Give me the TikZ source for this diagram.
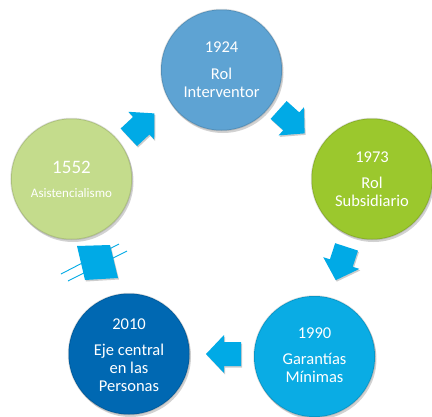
\documentclass[tikz,border=0pt]{standalone}
\usepackage{fontspec}
\setmainfont{Carlito}
\usetikzlibrary{shadows}
\definecolor{cA}{RGB}{94,163,211}
\definecolor{cB}{RGB}{155,200,45}
\definecolor{cC}{RGB}{10,172,228}
\definecolor{cD}{RGB}{0,104,178}
\definecolor{cE}{RGB}{196,220,140}
\definecolor{arr}{RGB}{0,170,230}
\begin{document}
\begin{tikzpicture}[x=1pt,y=-1pt,
  yr/.style={circle, minimum size=121pt, inner sep=0pt, draw=black, draw opacity=0.12, line width=1.5pt,
    drop shadow={shadow xshift=1.5pt, shadow yshift=-2.5pt, opacity=0.35}},
  yeartxt/.style={text=white, inner sep=0pt, font=\fontsize{16.5}{18}\selectfont},
  nametxt/.style={text=white, inner sep=0pt, align=center, font=\fontsize{16.5}{18}\selectfont},
  blockarrow/.style={fill=arr, drop shadow={shadow xshift=1pt, shadow yshift=-1.5pt, opacity=0.4}},
  glitch/.style={draw=arr, line width=0.9pt}]
\useasboundingbox (0,0) rectangle (432,416);
\clip (0,0) rectangle (432,416);
\fill[white] (0,0) rectangle (432,416);

% circles
\node[yr, fill=cA] (c1924) at (221.5,70) {};
\node[yr, fill=cB] (c1973) at (372,179) {};
\node[yr, fill=cC] (c1990) at (314.5,356.5) {};
\node[yr, fill=cD] (c2010) at (129,354) {};
\node[yr, fill=cE] (c1552) at (71.5,179) {};

% texts
\node[yeartxt] (y1924) at ([yshift=23pt]c1924.center) {1924};
\node[nametxt] (n1924) at ([yshift=-12.5pt]c1924.center) {Rol\\Interventor};
\node[yeartxt] (y1973) at ([yshift=22pt]c1973.center) {1973};
\node[nametxt] (n1973) at ([yshift=-12.5pt]c1973.center) {Rol\\Subsidiario};
\node[yeartxt] (y1990) at ([yshift=23.5pt]c1990.center) {1990};
\node[nametxt] (n1990) at ([yshift=-11.5pt]c1990.center) {Garantías\\Mínimas};
\node[yeartxt] (y2010) at ([yshift=30pt]c2010.center) {2010};
\node[nametxt] (n2010) at ([yshift=-14pt]c2010.center) {Eje central\\en las\\Personas};
\node[yeartxt, font=\fontsize{19}{21}\selectfont] (y1552) at ([yshift=12pt]c1552.center) {1552};
\node[nametxt, font=\fontsize{13}{15}\selectfont] (n1552) at ([yshift=-14pt]c1552.center) {Asistencialismo};

% block arrows
\path[blockarrow, shift={(142,125)}, rotate=43]
  (-18,-12) -- (-1,-12) -- (-1,-19) -- (17,0) -- (-1,19) -- (-1,12) -- (-18,12) -- cycle;
\path[blockarrow, shift={(292,122)}, rotate=-42]
  (-18,-12) -- (-1,-12) -- (-1,-19) -- (17,0) -- (-1,19) -- (-1,12) -- (-18,12) -- cycle;
\path[blockarrow, shift={(341,264)}, rotate=-108]
  (-18,-12) -- (-1,-12) -- (-1,-19) -- (17,0) -- (-1,19) -- (-1,12) -- (-18,12) -- cycle;
\path[blockarrow, shift={(223,354)}, rotate=180]
  (-18,-12) -- (-1,-12) -- (-1,-19) -- (17,0) -- (-1,19) -- (-1,12) -- (-18,12) -- cycle;

% broken arrow between 2010 and 1552
\draw[glitch] (61,274) -- (119,244);
\draw[glitch] (68,281) -- (127,251);
\path[blockarrow] (77,246) -- (110,245) -- (118,278) -- (85,280) -- cycle;
\end{tikzpicture}
\end{document}
